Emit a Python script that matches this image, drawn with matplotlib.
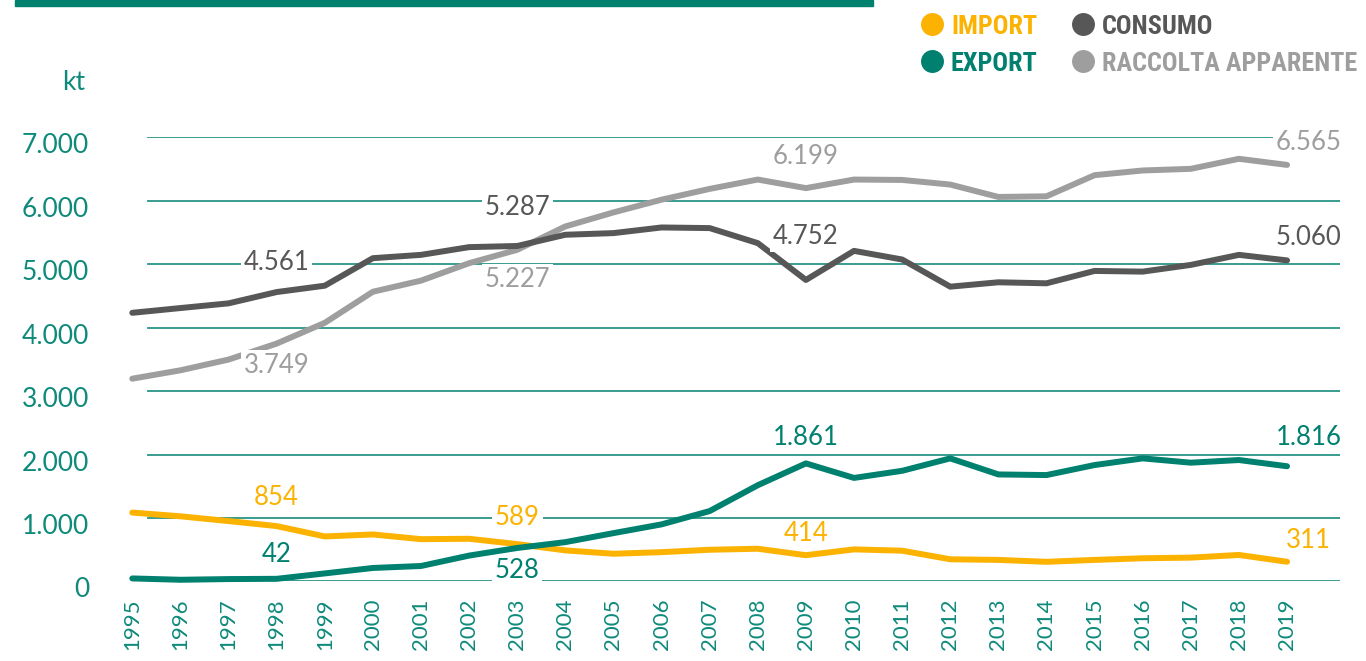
import matplotlib
matplotlib.use("Agg")
import matplotlib.pyplot as plt
from matplotlib.lines import Line2D
from matplotlib.patches import Rectangle
from matplotlib.transforms import ScaledTranslation

# dati (kt)
anni = list(range(1995, 2020))
importazioni = [1086, 1027, 952, 873, 710, 741, 667, 673, 589, 490, 437, 462, 500, 516, 414,
                506, 485, 350, 340, 310, 340, 366, 376, 418, 311]
esportazioni = [48, 27, 38, 42, 127, 213, 244, 408, 528, 620, 762, 900, 1110, 1517, 1861,
                1632, 1744, 1940, 1687, 1677, 1835, 1940, 1872, 1914, 1816]
consumo = [4234, 4309, 4383, 4561, 4661, 5095, 5147, 5269, 5287, 5464, 5490, 5579, 5569, 5332, 4752,
           5210, 5074, 4646, 4715, 4699, 4894, 4883, 4989, 5147, 5060]
raccolta = [3196, 3328, 3497, 3749, 4076, 4566, 4741, 5016, 5227, 5595, 5816, 6017, 6187, 6334, 6199,
            6334, 6328, 6255, 6060, 6070, 6403, 6477, 6503, 6661, 6565]
yticks = [0, 1000, 2000, 3000, 4000, 5000, 6000, 7000]
ytick_labels = ["0", "1.000", "2.000", "3.000", "4.000", "5.000", "6.000", "7.000"]

# etichette dei valori: (anno, posizione y, testo)
lab_import = [(1998, 1330, "854"), (2003, 1010, "589"), (2009, 750, "414"), (2019.45, 640, "311")]
lab_export = [(1998, 420, "42"), (2003, 180, "528"), (2009, 2270, "1.861"), (2019.45, 2270, "1.816")]
lab_consumo = [(1998, 5020, "4.561"), (2003, 5890, "5.287"), (2009, 5430, "4.752"), (2019.45, 5420, "5.060")]
lab_raccolta = [(1998, 3400, "3.749"), (2003, 4755, "5.227"), (2009, 6690, "6.199"), (2019.45, 6920, "6.565")]

C_IMP = "#FBB200"
C_EXP = "#00806F"
C_CON = "#575757"
C_RAC = "#9E9E9E"
C_TXT = "#0E8A7B"
C_GRID = "#2A9486"

NUM = ["Lato", "DejaVu Sans"]
COND = ["Roboto Condensed", "DejaVu Sans"]

fig = plt.figure(figsize=(13.66, 6.61), dpi=100)
ax = fig.add_axes([0.09685, 0.1203, 0.8841, 0.672])
ax.set_xlim(1995, 2020.1)
ax.set_ylim(0, 7000)

for v in yticks:
    ax.axhline(v, xmin=0.013, xmax=1, color=C_GRID, lw=1.3, zorder=1)

ax.plot(anni, raccolta, color=C_RAC, lw=4.3, solid_capstyle="round", zorder=3)
ax.plot(anni, consumo, color=C_CON, lw=4.3, solid_capstyle="round", zorder=4)
ax.plot(anni, importazioni, color=C_IMP, lw=4.3, solid_capstyle="round", zorder=5)
ax.plot(anni, esportazioni, color=C_EXP, lw=4.3, solid_capstyle="round", zorder=6)
for l in ax.lines[8:]:
    l.set_clip_on(False)

for labs, col in [(lab_import, C_IMP), (lab_export, C_EXP), (lab_consumo, C_CON), (lab_raccolta, C_RAC)]:
    for x, y, t in labs:
        ax.text(x, y, t, color=col, fontsize=18.5, family=NUM, ha="center", va="center",
                zorder=7, bbox=dict(facecolor="white", edgecolor="none", pad=2))

for s in ax.spines.values():
    s.set_visible(False)
ax.tick_params(length=0)
ax.set_yticks(yticks)
ax.set_yticklabels(ytick_labels, color=C_TXT, fontsize=19, family=NUM)
ax.tick_params(axis="y", pad=31)
off = ScaledTranslation(0, -6 / 100, fig.dpi_scale_trans)
for lab in ax.get_yticklabels():
    lab.set_transform(lab.get_transform() + off)
ax.set_xticks(anni)
ax.set_xticklabels([str(a) for a in anni], rotation=90, color=C_TXT, fontsize=16, family=NUM)
ax.tick_params(axis="x", pad=12)

fig.text(62 / 1366, 1 - 83 / 661, "kt", color=C_TXT, fontsize=19, family=NUM, va="center", ha="left")

# barra in alto
fig.patches.append(Rectangle((15 / 1366, 1 - 6 / 661), 858 / 1366, 6 / 661,
                             transform=fig.transFigure, color=C_EXP, zorder=0))

# legenda
legenda = [("IMPORT", C_IMP, 931.7, 951, 24.3),
           ("EXPORT", C_EXP, 931.7, 951, 61.3),
           ("CONSUMO", C_CON, 1082.5, 1102, 24.3),
           ("RACCOLTA APPARENTE", C_RAC, 1082.5, 1102, 61.3)]
for testo, col, xc, xt, yc in legenda:
    fig.add_artist(Line2D([xc / 1366], [1 - yc / 661], marker="o", ms=15.5, color=col,
                          lw=0, transform=fig.transFigure))
    fig.text(xt / 1366, 1 - (yc + 10) / 661, testo, color=col, fontsize=18.8, family=COND,
             weight="bold", stretch="condensed", ha="left", va="baseline")

fig.savefig("out.png", dpi=100)
